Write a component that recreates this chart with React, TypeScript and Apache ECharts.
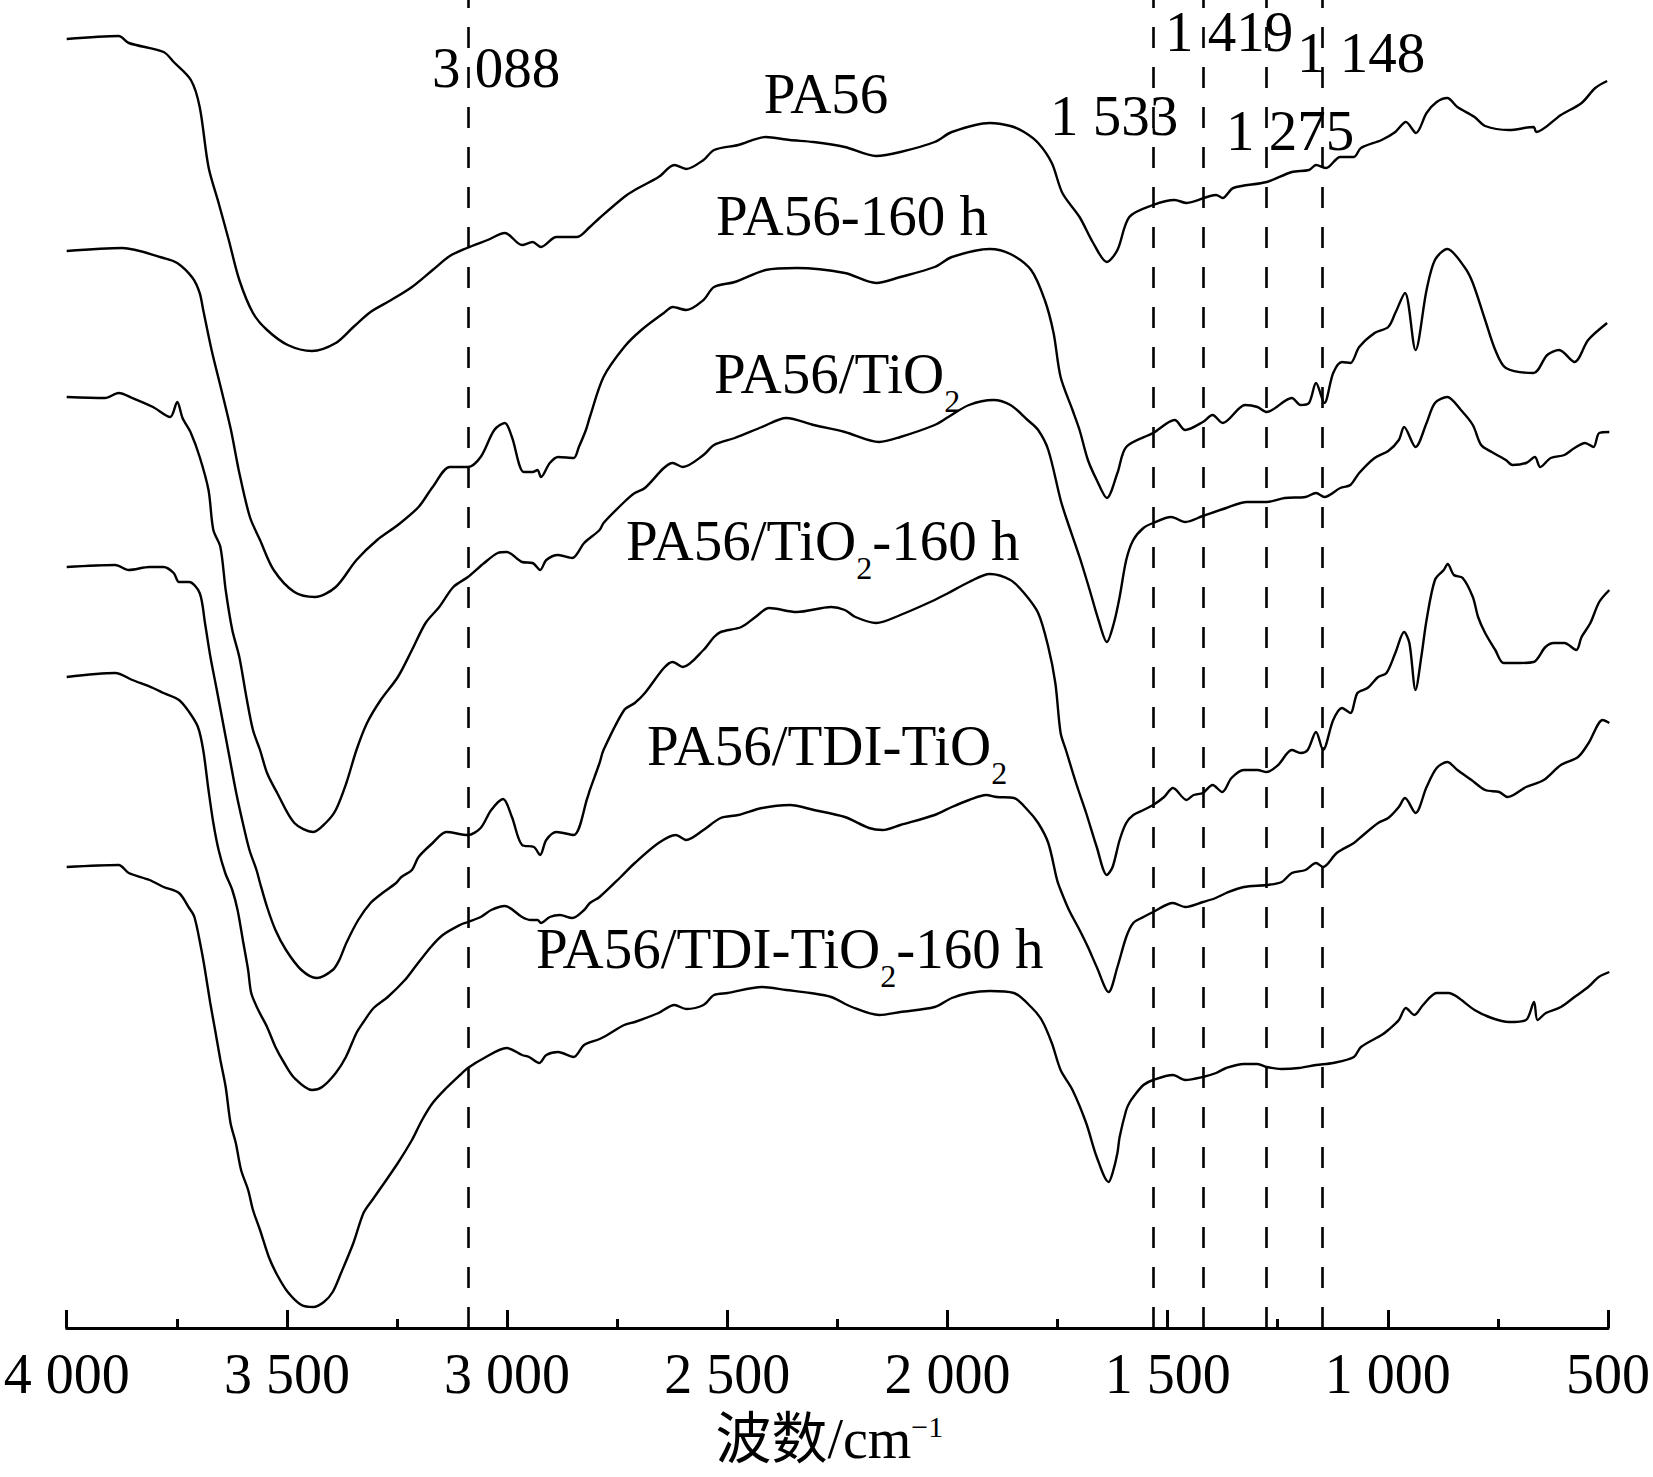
import { useEffect, useRef } from "react"
import * as echarts from "echarts"

// FTIR spectra, [wavenumber cm-1, relative transmittance (offset, arbitrary units)]
const pa56: number[][] = [
  [4000, 1289], [3882, 1292], [3859, 1285], [3780, 1276], [3757, 1266], [3718, 1248], [3698, 1221],
  [3678, 1161], [3655, 1125], [3632, 1088], [3608, 1048], [3577, 1015], [3545, 998], [3498, 983],
  [3443, 977], [3389, 985], [3349, 1001], [3310, 1016], [3263, 1028], [3216, 1041], [3169, 1058],
  [3130, 1072], [3091, 1080], [3044, 1088], [3005, 1095], [2966, 1083], [2942, 1086], [2923, 1081],
  [2888, 1091], [2841, 1091], [2812, 1101], [2790, 1110], [2734, 1131], [2710, 1138], [2656, 1151],
  [2620, 1163], [2593, 1159], [2554, 1168], [2530, 1178], [2475, 1183], [2413, 1191], [2358, 1188],
  [2304, 1186], [2233, 1181], [2162, 1172], [2107, 1176], [2029, 1186], [1990, 1196], [1904, 1205],
  [1857, 1202], [1826, 1196], [1794, 1185], [1763, 1165], [1739, 1135], [1700, 1111], [1669, 1085],
  [1638, 1066], [1614, 1078], [1587, 1111], [1533, 1123], [1484, 1128], [1457, 1125], [1390, 1133],
  [1375, 1130], [1351, 1140], [1275, 1146], [1218, 1156], [1179, 1158], [1163, 1163], [1140, 1160],
  [1108, 1171], [1077, 1171], [1061, 1180], [1014, 1188], [983, 1196], [959, 1206], [936, 1195],
  [912, 1215], [889, 1226], [865, 1230], [842, 1221], [803, 1211], [779, 1202], [725, 1198],
  [669, 1201], [663, 1196], [607, 1213], [560, 1225], [529, 1240], [502, 1247],
]

const pa56Aged: number[][] = [
  [4000, 1077], [3874, 1080], [3780, 1070], [3749, 1065], [3714, 1050], [3698, 1035], [3690, 1018],
  [3671, 978], [3647, 935], [3627, 898], [3608, 855], [3584, 811], [3561, 788], [3530, 758],
  [3483, 736], [3436, 731], [3389, 741], [3342, 768], [3295, 788], [3248, 803], [3201, 821],
  [3169, 841], [3130, 861], [3089, 861], [3060, 871], [3029, 898], [3005, 905], [2989, 891],
  [2962, 856], [2942, 856], [2931, 858], [2923, 851], [2903, 865], [2884, 871], [2849, 870],
  [2837, 881], [2821, 898], [2812, 911], [2781, 951], [2734, 981], [2695, 998], [2644, 1015],
  [2624, 1021], [2593, 1018], [2554, 1028], [2530, 1041], [2483, 1046], [2413, 1058], [2342, 1060],
  [2233, 1055], [2162, 1045], [2107, 1051], [2029, 1061], [1990, 1071], [1904, 1079], [1857, 1074],
  [1810, 1058], [1779, 1028], [1759, 995], [1743, 951], [1716, 918], [1700, 898], [1681, 868],
  [1661, 848], [1638, 830], [1614, 855], [1594, 881], [1533, 895], [1484, 908], [1460, 898],
  [1420, 906], [1398, 913], [1375, 905], [1324, 923], [1296, 921], [1275, 916], [1218, 930],
  [1198, 923], [1179, 925], [1163, 945], [1144, 925], [1124, 955], [1104, 966], [1085, 965],
  [1065, 981], [1030, 995], [999, 1001], [983, 1015], [961, 1035], [937, 978], [912, 1038],
  [893, 1068], [865, 1079], [826, 1061], [807, 1045], [779, 1008], [756, 978], [732, 960],
  [669, 955], [638, 973], [611, 978], [576, 966], [545, 988], [502, 1005],
]

const pa56TiO2: number[][] = [
  [4000, 931], [3913, 930], [3882, 935], [3851, 930], [3804, 921], [3765, 911], [3749, 926],
  [3737, 910], [3718, 895], [3698, 871], [3678, 838], [3667, 798], [3651, 781], [3639, 738],
  [3624, 698], [3608, 671], [3592, 631], [3577, 598], [3561, 578], [3545, 555], [3522, 535],
  [3483, 505], [3440, 496], [3412, 505], [3389, 518], [3365, 545], [3342, 578], [3318, 605],
  [3287, 628], [3248, 651], [3216, 678], [3185, 705], [3154, 721], [3122, 741], [3089, 751],
  [3052, 765], [3021, 775], [3001, 776], [2966, 766], [2942, 765], [2925, 758], [2911, 768],
  [2884, 773], [2852, 770], [2825, 785], [2790, 798], [2781, 805], [2734, 826], [2710, 835],
  [2687, 840], [2644, 860], [2624, 865], [2601, 861], [2554, 873], [2530, 883], [2483, 890],
  [2421, 901], [2366, 910], [2304, 903], [2233, 896], [2155, 886], [2107, 891], [2029, 903],
  [1998, 911], [1951, 923], [1896, 928], [1857, 923], [1818, 908], [1794, 898], [1771, 878],
  [1743, 828], [1731, 811], [1700, 771], [1677, 738], [1657, 708], [1638, 686], [1622, 705],
  [1609, 731], [1594, 768], [1578, 788], [1555, 800], [1533, 805], [1492, 811], [1460, 806],
  [1420, 812], [1367, 820], [1320, 826], [1275, 826], [1234, 830], [1187, 831], [1163, 835],
  [1144, 831], [1108, 840], [1085, 843], [1065, 855], [1030, 870], [999, 877], [975, 888],
  [963, 901], [937, 881], [912, 905], [893, 925], [865, 931], [834, 918], [807, 903], [788, 883],
  [764, 876], [732, 868], [717, 863], [686, 865], [666, 871], [654, 861], [630, 870], [599, 873],
  [576, 880], [552, 885], [533, 881], [520, 895], [497, 896],
]

const pa56TiO2Aged: number[][] = [
  [4000, 761], [3890, 763], [3859, 758], [3812, 761], [3780, 761], [3757, 755], [3745, 746],
  [3722, 746], [3698, 735], [3686, 705], [3674, 672], [3660, 640], [3645, 605], [3630, 570],
  [3615, 535], [3600, 505], [3585, 478], [3569, 458], [3561, 445], [3545, 421], [3526, 398],
  [3502, 378], [3467, 358], [3432, 350], [3396, 358], [3381, 368], [3365, 385], [3338, 408],
  [3310, 425], [3283, 435], [3252, 445], [3240, 451], [3216, 458], [3201, 471], [3169, 485],
  [3138, 496], [3089, 493], [3060, 500], [3036, 518], [3009, 529], [2989, 511], [2966, 483],
  [2939, 481], [2925, 473], [2911, 488], [2888, 496], [2849, 493], [2817, 531], [2812, 538],
  [2790, 565], [2781, 578], [2734, 618], [2710, 625], [2687, 635], [2644, 660], [2624, 666],
  [2601, 661], [2554, 678], [2530, 691], [2515, 696], [2468, 701], [2436, 711], [2405, 720],
  [2342, 716], [2264, 721], [2233, 718], [2209, 711], [2162, 705], [2107, 713], [2029, 728],
  [1998, 735], [1951, 746], [1904, 754], [1857, 748], [1826, 735], [1794, 715], [1771, 681],
  [1755, 645], [1743, 595], [1731, 578], [1708, 545], [1685, 515], [1661, 481], [1638, 453],
  [1625, 461], [1609, 488], [1594, 505], [1578, 513], [1555, 518], [1533, 523], [1508, 531],
  [1488, 540], [1457, 528], [1441, 533], [1420, 535], [1398, 543], [1376, 536], [1355, 550],
  [1327, 558], [1296, 558], [1275, 556], [1249, 563], [1218, 578], [1198, 575], [1182, 578],
  [1163, 596], [1147, 578], [1124, 608], [1104, 620], [1085, 615], [1069, 635], [1046, 640],
  [1022, 651], [1003, 655], [983, 675], [963, 696], [951, 685], [937, 638], [924, 671],
  [912, 708], [893, 748], [873, 758], [864, 764], [850, 753], [830, 750], [807, 731], [795, 711],
  [779, 695], [756, 678], [737, 665], [701, 665], [669, 666], [642, 681], [623, 685], [599, 685],
  [572, 678], [560, 691], [540, 705], [520, 726], [497, 738],
]

const pa56TdiTiO2: number[][] = [
  [4000, 651], [3890, 655], [3851, 648], [3804, 640], [3780, 635], [3745, 628], [3722, 616],
  [3702, 601], [3690, 578], [3678, 538], [3667, 505], [3655, 478], [3640, 455], [3624, 438],
  [3612, 418], [3600, 388], [3588, 358], [3581, 335], [3565, 318], [3545, 301], [3526, 281],
  [3506, 265], [3483, 250], [3443, 238], [3420, 241], [3389, 255], [3366, 271], [3342, 295],
  [3326, 306], [3303, 320], [3271, 331], [3232, 348], [3209, 361], [3173, 381], [3146, 393],
  [3107, 403], [3089, 406], [3060, 411], [3036, 418], [3005, 422], [2966, 411], [2946, 408],
  [2931, 408], [2923, 405], [2903, 411], [2880, 413], [2852, 410], [2825, 418], [2812, 425],
  [2790, 431], [2742, 451], [2710, 465], [2656, 485], [2617, 493], [2593, 488], [2554, 498],
  [2515, 510], [2475, 513], [2421, 520], [2358, 523], [2303, 518], [2233, 511], [2178, 500],
  [2147, 498], [2107, 503], [2029, 513], [1990, 521], [1951, 528], [1912, 533], [1888, 531],
  [1849, 530], [1818, 518], [1794, 505], [1771, 485], [1751, 448], [1743, 438], [1724, 418],
  [1700, 398], [1681, 381], [1661, 361], [1634, 336], [1614, 361], [1594, 391], [1578, 405],
  [1555, 411], [1533, 416], [1488, 425], [1460, 421], [1420, 426], [1391, 430], [1367, 435],
  [1327, 441], [1275, 443], [1241, 446], [1218, 455], [1187, 458], [1163, 465], [1147, 461],
  [1116, 475], [1077, 485], [1061, 491], [1022, 505], [999, 510], [975, 521], [961, 530],
  [937, 515], [912, 541], [889, 560], [865, 566], [842, 558], [810, 548], [779, 538], [747, 536],
  [728, 531], [686, 541], [646, 548], [607, 563], [568, 571], [544, 585], [512, 608], [497, 605],
]

const pa56TdiTiO2Aged: number[][] = [
  [4000, 461], [3882, 463], [3859, 455], [3812, 448], [3780, 441], [3745, 435], [3722, 420],
  [3710, 411], [3694, 378], [3686, 358], [3674, 325], [3663, 298], [3651, 268], [3639, 241],
  [3628, 205], [3616, 185], [3604, 158], [3588, 138], [3577, 118], [3561, 98], [3541, 71],
  [3522, 53], [3498, 36], [3467, 23], [3440, 21], [3416, 26], [3396, 36], [3377, 55], [3349, 85],
  [3326, 115], [3306, 128], [3279, 145], [3248, 165], [3216, 188], [3193, 208], [3169, 225],
  [3138, 240], [3107, 253], [3089, 260], [3052, 270], [3001, 280], [2966, 273], [2950, 271],
  [2927, 265], [2911, 273], [2884, 276], [2849, 271], [2825, 283], [2790, 289], [2765, 295],
  [2734, 303], [2710, 306], [2656, 315], [2620, 323], [2593, 319], [2554, 323], [2530, 333],
  [2499, 335], [2421, 341], [2366, 338], [2311, 335], [2264, 331], [2217, 321], [2155, 313],
  [2107, 316], [2029, 321], [1990, 330], [1951, 335], [1904, 337], [1849, 335], [1810, 321],
  [1786, 308], [1763, 285], [1743, 258], [1716, 238], [1685, 205], [1661, 171], [1634, 146],
  [1625, 155], [1614, 175], [1609, 191], [1594, 218], [1587, 225], [1578, 231], [1555, 243],
  [1533, 248], [1488, 253], [1460, 248], [1420, 251], [1390, 255], [1367, 260], [1327, 264],
  [1296, 264], [1275, 261], [1241, 259], [1202, 260], [1163, 263], [1124, 265], [1077, 271],
  [1061, 281], [1014, 293], [999, 298], [975, 308], [959, 320], [940, 313], [920, 323],
  [889, 335], [862, 335], [842, 331], [803, 318], [764, 310], [725, 306], [686, 308], [668, 326],
  [660, 308], [641, 315], [607, 321], [576, 331], [545, 341], [521, 351], [497, 356],
]

const seriesNames = [
  "PA56", "PA56-160 h", "PA56/TiO2", "PA56/TiO2-160 h", "PA56/TDI-TiO2", "PA56/TDI-TiO2-160 h",
]
const seriesData = [pa56, pa56Aged, pa56TiO2, pa56TiO2Aged, pa56TdiTiO2, pa56TdiTiO2Aged]

// marked bands (dashed lines) and their labels
const bands = [3088, 1533, 1419, 1275, 1148]
const bandLabels = ["3 088", "1 533", "1 419", "1 275", "1 148"]
const bandLabelPos = [[496, 87], [1114, 135], [1229, 51], [1290, 150], [1361, 72]]

// curve labels, split where a subscript "2" sits
const curveLabels = [
  ["PA56"],
  ["PA56-160 h"],
  ["PA56/TiO", "2"],
  ["PA56/TiO", "2", "-160 h"],
  ["PA56/TDI-TiO", "2"],
  ["PA56/TDI-TiO", "2", "-160 h"],
]
// [x, baseline, centred?]
const curveLabelPos = [
  [826, 113, 1], [852, 235, 1], [714, 393, 0], [626, 560, 0], [647, 765, 0], [536, 968, 0],
]

const FONT = '"Liberation Serif", "Times New Roman", serif'
const SIZE = 57
const SUB = 32

function textWidth(text: string, size: number) {
  const ctx = document.createElement("canvas").getContext("2d")!
  ctx.font = `${size}px ${FONT}`
  return ctx.measureText(text).width
}

function textEl(text: string, x: number, baseline: number, size: number, align: string) {
  return {
    type: "text",
    x,
    y: baseline - size * 0.3375,
    silent: true,
    style: {
      text,
      font: `${size}px ${FONT}`,
      fill: "#000",
      textAlign: align,
      textVerticalAlign: "middle",
    },
  }
}

function buildLabels() {
  const els: any[] = []
  bandLabels.forEach((t, i) => {
    els.push(textEl(t, bandLabelPos[i][0], bandLabelPos[i][1], SIZE, "center"))
  })
  curveLabels.forEach((parts, i) => {
    const [x0, base, centred] = curveLabelPos[i]
    if (centred) {
      els.push(textEl(parts[0], x0, base, SIZE, "center"))
      return
    }
    let x = x0
    parts.forEach((p, j) => {
      const sub = j === 1
      const size = sub ? SUB : SIZE
      els.push(textEl(p, x, sub ? base + 19 : base, size, "left"))
      x += textWidth(p, size)
    })
  })
  return els
}

function tickLabel(v: number) {
  if (v < 1000) return String(v)
  return `${Math.floor(v / 1000)} ${String(v % 1000).padStart(3, "0")}`
}

export default function App() {
  const chartRef = useRef<HTMLDivElement>(null)

  useEffect(() => {
    document.body.style.margin = "0"
    if (!chartRef.current) return
    const chart = echarts.init(chartRef.current, null, { renderer: "svg" })

    const series: any[] = seriesData.map((data, i) => ({
      name: seriesNames[i],
      type: "line",
      data,
      showSymbol: false,
      smooth: 0.3,
      lineStyle: { color: "#000", width: 2.4 },
      itemStyle: { color: "#000" },
      emphasis: { disabled: true },
      silent: true,
    }))
    series[0].markLine = {
      silent: true,
      symbol: ["none", "none"],
      label: { show: false },
      lineStyle: { color: "#000", width: 2.6, type: [21, 19] },
      data: bands.map((b) => ({ xAxis: b })),
    }

    chart.setOption({
      animation: false,
      grid: { left: 66.7, right: 44, top: 0, bottom: 149 },
      xAxis: {
        type: "value",
        inverse: true,
        min: 500,
        max: 4000,
        interval: 500,
        name: "波数/cm{sup|−1}",
        nameLocation: "middle",
        nameGap: 83,
        nameTextStyle: {
          fontSize: 56,
          lineHeight: 56,
          fontFamily: `${FONT}, "Noto Sans CJK SC"`,
          color: "#000",
          padding: [0, 16, 0, 0],
          rich: {
            sup: { fontSize: 30, lineHeight: 30, verticalAlign: "top", fontFamily: FONT, color: "#000" },
          },
        },
        axisLine: { lineStyle: { color: "#000", width: 3 } },
        axisTick: { inside: true, length: 18, lineStyle: { color: "#000", width: 3 } },
        minorTick: { show: true, splitNumber: 2, length: 9, lineStyle: { color: "#000", width: 3 } },
        axisLabel: {
          formatter: tickLabel,
          fontSize: 56,
          fontFamily: FONT,
          color: "#000",
          margin: 18,
          showMinLabel: true,
          showMaxLabel: true,
        },
        splitLine: { show: false },
        minorSplitLine: { show: false },
      },
      yAxis: { type: "value", show: false, min: 0, max: 1328 },
      series,
      graphic: buildLabels(),
    })

    return () => {
      chart.dispose()
    }
  }, [])

  return <div ref={chartRef} style={{ width: "1653px", height: "1477px" }} />
}
